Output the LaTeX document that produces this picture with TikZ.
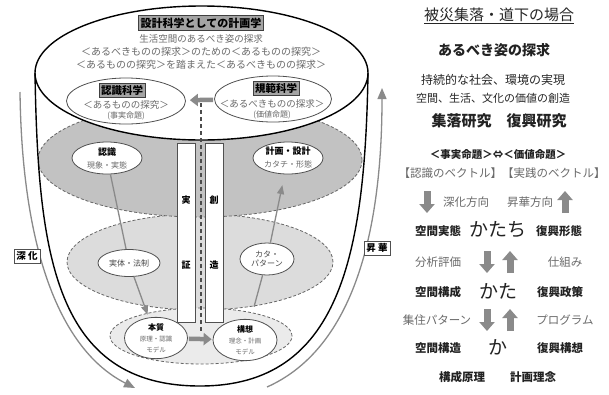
\documentclass[tikz,border=0pt]{standalone}
\usepackage{fontspec}
\setmainfont{Noto Sans CJK JP}
\usetikzlibrary{shapes.geometric,shapes.arrows,arrows.meta}
\definecolor{layA}{HTML}{C2C2C2}
\definecolor{layB}{HTML}{DCDCDC}
\definecolor{layC}{HTML}{EBEBEB}
\definecolor{boxg}{HTML}{A4A4A4}
\definecolor{txtg}{HTML}{6A6A6A}
\definecolor{arrg}{HTML}{8A8A8A}
\definecolor{lineg}{HTML}{505050}
\definecolor{darkt}{HTML}{222222}
\newcommand\fsz[1]{\fontsize{#1}{#1}\selectfont}
\begin{document}
\begin{tikzpicture}[x=1pt,y=-1pt,
  greybox/.style={draw=black!75, fill=boxg, line width=0.9pt, inner sep=2pt, font=\bfseries\fsz{11}},
  wnode/.style={ellipse, draw=lineg, fill=white, line width=0.8pt, inner sep=0pt},
  subtxt/.style={text=txtg, inner sep=0pt},
  layerline/.style={draw=black!60, line width=0.8pt, dash pattern=on 3pt off 2pt},
  cupline/.style={draw=black, line width=1.4pt},
  sidearr/.style={draw=arrg, line width=1.3pt, -{Triangle[width=9pt,length=11pt]}},
  fatarr/.style={draw=arrg, line width=4.5pt, -{Triangle[width=12pt,length=8pt]}},
  thinarr/.style={draw=arrg, line width=1.3pt, -{Triangle[width=7pt,length=9pt]}},
  thinline/.style={draw=arrg, line width=1.3pt},
  cdash/.style={draw=black!70, line width=1.3pt, dash pattern=on 4pt off 3pt},
  barbox/.style={draw=lineg, fill=white, line width=0.8pt, minimum width=18pt, minimum height=179pt, inner sep=0pt},
  bartxt/.style={inner sep=0pt, font=\bfseries\fsz{9}},
  sidebox/.style={draw=lineg, fill=white, line width=0.8pt, inner sep=2.5pt, font=\bfseries\fsz{9.5}},
  blkarr/.style={draw=arrg, line width=7pt, -{Triangle[width=15pt,length=9pt]}},
  rtxt/.style={inner sep=0pt, text=darkt},
  rgrey/.style={inner sep=0pt, text=txtg, font=\fsz{11.5}},
  rbold/.style={inner sep=0pt, text=darkt, font=\bfseries\fsz{11.5}},
  rbig/.style={inner sep=0pt, text=darkt, font=\fsz{19}}
]
\useasboundingbox (0,0) rectangle (609,394);
\fill[white] (0,0) rectangle (609,394);

% cup geometry
\coordinate (cupL) at (35,73);
\coordinate (cupR) at (368,73);
\coordinate (cupB) at (200,386);

% layers
\begin{scope}
\clip (cupL) .. controls (38,255) and (55,386) .. (cupB) .. controls (340,386) and (365,255) .. (cupR) -- (368,0) -- (35,0) -- cycle;
\filldraw[fill=layB, layerline] (200,262) ellipse [x radius=133pt, y radius=48pt];
\filldraw[fill=layA, layerline] (200,160) ellipse [x radius=162pt, y radius=57pt];
\filldraw[fill=layC, layerline] (201,336) ellipse [x radius=91pt, y radius=28pt];
\end{scope}

% central dashed line
\coordinate (dT) at (201,103);
\coordinate (dB) at (201,332);
\draw[cdash] (dT) -- (dB);

% top ellipse
\node[ellipse, draw=black, line width=1.4pt, fill=white, minimum width=333pt, minimum height=134pt, inner sep=0pt] (topell) at (201.5,73) {};
\draw[cupline] (cupL) .. controls (38,255) and (55,386) .. (cupB) .. controls (340,386) and (365,255) .. (cupR);
\draw[cdash] (dT) -- (201,141);

\node[greybox] (title) at (201,23) {設計科学としての計画学};
\node[subtxt, font=\fsz{9.5}] (t1) at (201,39) {生活空間のあるべき姿の探求};
\node[subtxt, font=\fsz{10}] (t2) at (201,52) {＜あるべきものの探求＞のための＜あるものの探究＞};
\node[subtxt, font=\fsz{10}] (t3) at (201,65) {＜あるものの探究＞を踏まえた＜あるべきものの探求＞};

\node[wnode, minimum width=119pt, minimum height=46pt] (sciL) at (126,101) {};
\node[wnode, minimum width=117pt, minimum height=46pt] (sciR) at (273,99) {};
\node[greybox, font=\bfseries\fsz{10.5}] (bL) at (122,90) {認識科学};
\node[subtxt, font=\fsz{9.5}] (sL1) at (126,105) {＜あるものの探究＞};
\node[subtxt, font=\fsz{8}] (sL2) at (126,116) {(事実命題)};
\node[greybox, font=\bfseries\fsz{10.5}] (bR) at (276,88) {規範科学};
\node[subtxt, font=\fsz{9.5}] (sR1) at (272,104) {＜あるべきものの探求＞};
\node[subtxt, font=\fsz{8}] (sR2) at (272,115) {(価値命題)};
\draw[fatarr, shorten <=1pt, shorten >=4pt] (sciR) -- (sciL);

% bars
\node[barbox] (barL) at (186,232.5) {};
\node[barbox] (barR) at (214,232.5) {};
\node[bartxt] (c1) at (186,200) {実};
\node[bartxt] (c2) at (186,265) {証};
\node[bartxt] (c3) at (214,200) {創};
\node[bartxt] (c4) at (214,265) {造};

% inner nodes
\node[wnode, minimum width=70pt, minimum height=32pt, align=center] (n1) at (107,158) {{\bfseries\fsz{9}認識}\\[1pt]{\color{txtg}\fsz{8}現象・実態}};
\node[wnode, minimum width=70pt, minimum height=32pt, align=center] (n2) at (288,158) {{\bfseries\fsz{9}計画・設計}\\[1pt]{\color{txtg}\fsz{8}カタチ・形態}};
\node[wnode, minimum width=62pt, minimum height=27pt, font=\fsz{8}, text=txtg!70!black] (n3) at (129,263) {実体・法制};
\node[wnode, minimum width=54pt, minimum height=32pt, align=center, font=\fsz{8}, text=txtg!70!black] (n4) at (267,259) {カタ・\\[1pt]パターン};
\node[wnode, minimum width=63pt, minimum height=28pt, align=center] (n5) at (156,338) {{\bfseries\fsz{8}本質}\\[-1pt]{\color{txtg}\fsz{6.5}原理・認識}\\[-1pt]{\color{txtg}\fsz{6.5}モデル}};
\node[wnode, minimum width=64pt, minimum height=28pt, align=center] (n6) at (245,340) {{\bfseries\fsz{8}構想}\\[-1pt]{\color{txtg}\fsz{6.5}理念・計画}\\[-1pt]{\color{txtg}\fsz{6.5}モデル}};

\draw[thinline] (n1) -- (n3);
\draw[thinarr, shorten >=3pt] (n3) -- (n5);
\draw[fatarr, shorten <=1pt, shorten >=1pt] (n5) -- (n6);
\draw[thinline, shorten <=13pt] (n6) -- (n4);
\draw[thinarr, shorten >=11pt] (n4) -- (n2);

% side arrows
\coordinate (sA1) at (20,92);
\coordinate (sA2) at (135,388);
\draw[sidearr] (sA1) .. controls (22,250) and (60,350) .. (sA2);
\coordinate (sB1) at (267,387);
\coordinate (sB2) at (382,88);
\draw[sidearr] (sB1) .. controls (350,350) and (382,240) .. (sB2);
\node[sidebox] (shinka) at (27,256) {深 化};
\node[sidebox] (shoka) at (377,248) {昇 華};

% right text
\node[rtxt, font=\fsz{15}, text=black!85] (r1) at (499,16) {\underline{被災集落・道下の場合}};
\node[rtxt, font=\bfseries\fsz{14}] (r2) at (494,50) {あるべき姿の探求};
\node[rtxt, font=\fsz{12}, text=black!85] (r3) at (493,80) {持続的な社会、環境の実現};
\node[rtxt, font=\fsz{11}, text=black!85] (r4) at (493,98) {空間、生活、文化の価値の創造};
\node[rtxt, font=\bfseries\fsz{15}] (r5) at (499,121) {集落研究　復興研究};
\node[rtxt, font=\bfseries\fsz{10.5}] (r6) at (498,155) {＜事実命題＞⇔＜価値命題＞};
\node[rgrey] (r7) at (502,173) {【認識のベクトル】【実践のベクトル】};

% block arrows (start / end coordinates)
\coordinate (a1s) at (427,191); \coordinate (a1e) at (427,213);
\coordinate (a2s) at (565,213); \coordinate (a2e) at (565,191);
\coordinate (a3s) at (487,251); \coordinate (a3e) at (487,273);
\coordinate (a4s) at (510,273); \coordinate (a4e) at (510,251);
\coordinate (a5s) at (487,309); \coordinate (a5e) at (487,331);
\coordinate (a6s) at (510,331); \coordinate (a6e) at (510,309);
\draw[blkarr] (a1s) -- (a1e);
\draw[blkarr] (a2s) -- (a2e);
\draw[blkarr] (a3s) -- (a3e);
\draw[blkarr] (a4s) -- (a4e);
\draw[blkarr] (a5s) -- (a5e);
\draw[blkarr] (a6s) -- (a6e);

\node[rgrey] (r8) at (466,202) {深化方向};
\node[rgrey] (r9) at (530,202) {昇華方向};

\node[rbold] (k1) at (438,231) {空間実態};
\node[rbig] (k2) at (498,230) {かたち};
\node[rbold] (k3) at (559,231) {復興形態};

\node[rgrey] (g1) at (438,262) {分析評価};
\node[rgrey] (g2) at (565,262) {仕組み};

\node[rbold] (k4) at (438,292) {空間構成};
\node[rbig] (k5) at (498,291) {かた};
\node[rbold] (k6) at (560,292) {復興政策};

\node[rgrey] (g3) at (437,320) {集住パターン};
\node[rgrey] (g4) at (565,320) {プログラム};

\node[rbold] (k7) at (438,348) {空間構造};
\node[rbig] (k8) at (498,347) {か};
\node[rbold] (k9) at (560,348) {復興構想};

\node[rbold] (k10) at (462,377) {構成原理};
\node[rbold] (k11) at (533,377) {計画理念};
\end{tikzpicture}
\end{document}
